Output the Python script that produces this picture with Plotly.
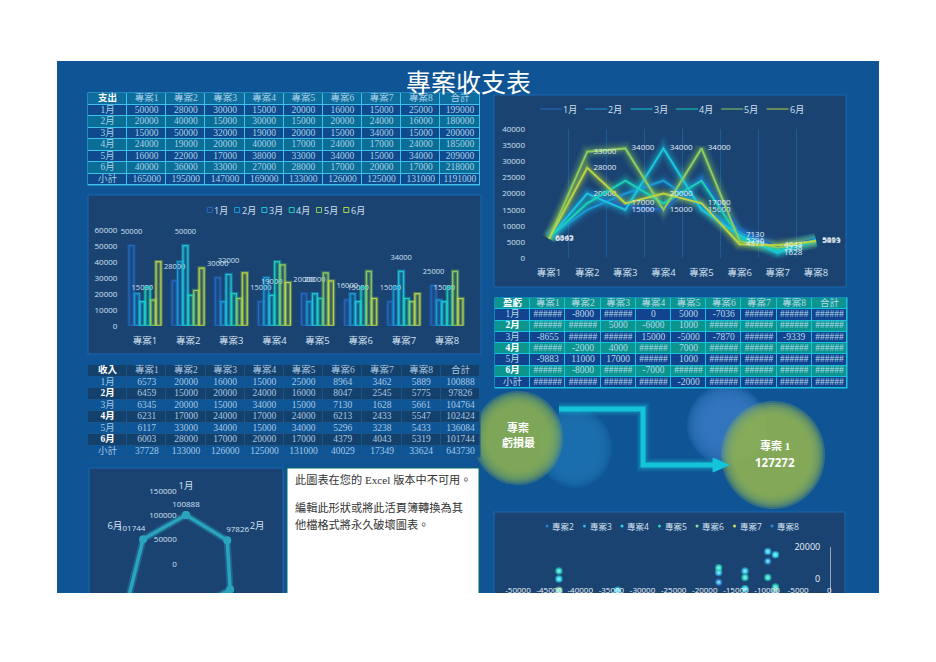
import plotly.graph_objects as go

W, H = 936, 662
projects = ["專案1", "專案2", "專案3", "專案4", "專案5", "專案6", "專案7", "專案8"]
months = ["1月", "2月", "3月", "4月", "5月", "6月"]
table_cols = projects + ["合計"]

expense = [
    [50000, 28000, 30000, 15000, 20000, 16000, 15000, 25000, 199000],
    [20000, 40000, 15000, 30000, 15000, 20000, 24000, 16000, 180000],
    [15000, 50000, 32000, 19000, 20000, 15000, 34000, 15000, 200000],
    [24000, 19000, 20000, 40000, 17000, 24000, 17000, 24000, 185000],
    [16000, 22000, 17000, 38000, 33000, 34000, 15000, 34000, 209000],
    [40000, 36000, 33000, 27000, 28000, 17000, 20000, 17000, 218000],
]
expense_total = [165000, 195000, 147000, 169000, 133000, 126000, 125000, 131000, 1191000]
income = [
    [6573, 20000, 16000, 15000, 25000, 8964, 3462, 5889, 100888],
    [6459, 15000, 20000, 24000, 16000, 8047, 2545, 5775, 97826],
    [6345, 20000, 15000, 34000, 15000, 7130, 1628, 5661, 104764],
    [6231, 17000, 24000, 17000, 24000, 6213, 2433, 5547, 102424],
    [6117, 33000, 34000, 15000, 34000, 5296, 3238, 5433, 136084],
    [6003, 28000, 17000, 20000, 17000, 4379, 4043, 5319, 101744],
]
income_total = [37728, 133000, 126000, 125000, 131000, 40029, 17349, 33624, 643730]
H6 = "######"
profit_cells = [
    [H6, -8000, H6, 0, 5000, -7036, H6, H6, H6],
    [H6, H6, 5000, -6000, 1000, H6, H6, H6, H6],
    [-8655, H6, H6, 15000, -5000, -7870, H6, -9339, H6],
    [H6, -2000, 4000, H6, 7000, H6, H6, H6, H6],
    [-9883, 11000, 17000, H6, 1000, H6, H6, H6, H6],
    [H6, -8000, H6, -7000, H6, H6, H6, H6, H6],
]
profit_total = [H6, H6, H6, H6, -2000, H6, H6, H6, H6]

radar_values = [100888, 97826, 104764, 102424, 136084, 101744]

scatter_x = [-43427, -13541, -8655, -17769, -9883, -33997]
scatter_series = {
    "專案2": [-8000, -25000, -30000, -2000, 11000, -8000],
    "專案3": [-14000, 5000, -17000, 4000, 17000, -16000],
    "專案4": [0, -6000, 15000, -23000, -23000, -7000],
    "專案5": [5000, 1000, -5000, 7000, 1000, -11000],
    "專案6": [-7036, -11953, -7870, -17787, -28704, -12621],
    "專案7": [-11538, -21455, -32372, -14567, -11762, -15957],
    "專案8": [-19111, -10225, -9339, -18453, -28567, -11681],
}
scatter_ticks = [-50000, -45000, -40000, -35000, -30000, -25000, -20000, -15000, -10000, -5000, 0]
scatter_colors = ["#2a7fd4", "#2fb5e8", "#25d4e8", "#22d6b0", "#8fe09a", "#d6d860", "#2f88e0"]

month_colors = ["#2468c0", "#1a9ad6", "#1cc6dc", "#1cd0b8", "#8ccb5e", "#b8d444"]

SANS = "Open Sans, Noto Sans CJK TC, sans-serif"
SERIF = "Liberation Serif, Noto Sans CJK TC, serif"
LABEL = "#d3e1f0"
PAGE = "#0f5595"
PANEL = "#1a4372"
PANEL_LINE = "#1a68b0"
NB = "\u00a0"


def fx(px):
    return px / W


def fy(py):
    return 1 - py / H


shapes, annotations = [], []
layout = {}


def rect(x0, y0, x1, y1, fill, line=None, lw=1, layer="below"):
    shapes.append(dict(type="rect", xref="paper", yref="paper", x0=fx(x0), x1=fx(x1), y0=fy(y0), y1=fy(y1),
                       fillcolor=fill, line=dict(color=line or fill, width=lw if line else 0), layer=layer))


def circle(cx, cy, rx, ry, fill, opacity=1.0):
    shapes.append(dict(type="circle", xref="paper", yref="paper", x0=fx(cx - rx), x1=fx(cx + rx),
                       y0=fy(cy - ry), y1=fy(cy + ry), fillcolor=fill, opacity=opacity,
                       line=dict(width=0), layer="below"))


def soft_circle(cx, cy, rx, ry, fill, spread=7):
    for k in range(8):
        d = spread - 2 * spread * k / 7
        circle(cx, cy, rx + d, ry + d, fill, 0.3)


def label(x, y, text, size=9, color=LABEL, family=SANS, xanchor="left"):
    annotations.append(dict(xref="paper", yref="paper", x=fx(x), y=fy(y), text=text, showarrow=False,
                            xanchor=xanchor, yanchor="middle", font=dict(size=size, color=color, family=family),
                            borderpad=0, borderwidth=0))


def axes(i, box, xcfg, ycfg):
    x0, y0, x1, y1 = box
    s = "" if i == 1 else str(i)
    layout[f"xaxis{s}"] = dict(domain=[fx(x0), fx(x1)], anchor=f"y{s}", **xcfg)
    layout[f"yaxis{s}"] = dict(domain=[fy(y1), fy(y0)], anchor=f"x{s}", **ycfg)
    return f"x{s}", f"y{s}"


fig = go.Figure()

# ---------- page background and panels
rect(57, 61, 879, 593, PAGE)
rect(88, 195, 481, 354, PANEL, PANEL_LINE)
rect(494, 95, 846, 287, PANEL, PANEL_LINE)
rect(89, 468, 283, 600, PANEL, PANEL_LINE)
rect(494, 512, 845, 600, PANEL, PANEL_LINE)
rect(287, 468, 479, 600, "#ffffff", "#0b6b62", 1)

# ---------- bubbles and arrow
soft_circle(575, 448, 29, 32, "#1d6fae", 8)
soft_circle(727, 425, 32, 32, "#3577bf", 8)
soft_circle(518, 438, 38, 40, "#86ad55", 7)
soft_circle(773, 455, 45, 47, "#8aae55", 7)

arrow = "M %.4f %.4f L %.4f %.4f L %.4f %.4f L %.4f %.4f" % (
    fx(559), fy(409), fx(643), fy(409), fx(643), fy(465), fx(714), fy(465))
head = "M %.4f %.4f L %.4f %.4f L %.4f %.4f Z" % (fx(713), fy(458), fx(729), fy(465), fx(713), fy(472))
for w, op in [(13, 0.12), (9, 0.25), (5, 1.0)]:
    shapes.append(dict(type="path", xref="paper", yref="paper", path=arrow,
                       line=dict(color="#14c4d8", width=w), opacity=op, layer="below"))
shapes.append(dict(type="path", xref="paper", yref="paper", path=head, fillcolor="#14c4d8",
                   line=dict(color="#14c4d8", width=1), layer="below"))


# ---------- tables
def table(i, box, corner, rows, totals, colors, grid, txt, bold_rows):
    rect(box[0] - 0.5, box[1] - 0.5, box[2] + 0.5, box[3] + 0.5, grid)
    col_names = [corner] + table_cols
    row_names = [corner] + months + ["小計"]
    xa, ya = axes(i, box,
                  dict(type="category", range=[-0.5, 9.5], visible=False, categoryarray=col_names),
                  dict(type="category", range=[7.5, -0.5], visible=False, categoryarray=row_names))
    z = [[0] * 10]
    for r in range(7):
        z.append([1 if r % 2 == 0 else 2] * 10)
    fig.add_trace(go.Heatmap(x=col_names, y=row_names, z=z, zmin=0, zmax=2, xgap=1, ygap=1,
                             colorscale=[[0, colors[0]], [0.5, colors[1]], [1, colors[2]]],
                             showscale=False, hoverinfo="skip", xaxis=xa, yaxis=ya))
    grid_rows = [table_cols] + rows + [totals]
    xs, ys, ts, cs = [], [], [], []
    for r, name in enumerate(row_names):
        bold = name in bold_rows
        xs.append(corner)
        ys.append(name)
        ts.append(f"<b>{name}</b>" if bold else name)
        cs.append("#ffffff" if bold else txt)
        for c, cn in enumerate(table_cols):
            xs.append(cn)
            ys.append(name)
            ts.append(str(grid_rows[r][c]))
            cs.append(txt)
    fig.add_trace(go.Scatter(x=xs, y=ys, text=ts, mode="text", textposition="middle center",
                             textfont=dict(size=9.5, color=cs, family=SERIF), hoverinfo="skip",
                             cliponaxis=False, showlegend=False, xaxis=xa, yaxis=ya))


table(1, (88, 93, 479.5, 185), "支出", expense, expense_total,
      ["#0f6d9e", "#0e4a8c", "#0a6e96"], "#3fc0ee", "#a9d2ea", ["支出"])
table(2, (88, 365, 480, 457), "收入", income, income_total,
      ["#14406c", "#0e5596", "#14406c"], "#17558c", "#a9c8e2", ["收入", "2月", "4月", "6月"])
table(3, (495, 298, 847, 388), "盈虧", profit_cells, profit_total,
      ["#0c9590", "#12438f", "#0c948f"], "#1ac4e0", "#b5dbe8", ["盈虧", "2月", "4月", "6月"])

# ---------- grouped bar chart
tickfont = dict(size=8, color=LABEL, family=SANS)
bar_box = (123.4, 229.7, 468.6, 325.7)
hidden_y = dict(range=[0, 60000], visible=False)
xb, yb = axes(4, bar_box, dict(type="category", categoryarray=projects, tickfont=dict(size=9.5, color=LABEL, family=SANS),
                               showgrid=False, showline=False, ticks="", zeroline=False, ticklabelstandoff=8),
              dict(range=[0, 60000], tickfont=tickfont, showgrid=False, zeroline=False, showline=False,
                   tickvals=[0, 10000, 20000, 30000, 40000, 50000, 60000], ticks="", tickformat="d",
                   ticklabelstandoff=5))
xb2, yb2 = axes(5, bar_box, dict(type="category", categoryarray=projects, visible=False), hidden_y)
layout["yaxis5"]["overlaying"] = "y4"
layout["xaxis5"]["overlaying"] = "x4"


def rgba(hexc, a):
    return "rgba(%d,%d,%d,%.2f)" % (int(hexc[1:3], 16), int(hexc[3:5], 16), int(hexc[5:7], 16), a)


for m, month in enumerate(months):
    vals = expense[m][:8]
    col = month_colors[m]
    fig.add_trace(go.Bar(x=projects, y=vals, marker=dict(color=rgba(col, 0.14), line=dict(color=rgba(col, 0.35), width=3.5)),
                         showlegend=False, hoverinfo="skip", xaxis=xb, yaxis=yb))
for m, month in enumerate(months):
    vals = expense[m][:8]
    col = month_colors[m]
    labelled = m in (0, 2)
    fig.add_trace(go.Bar(x=projects, y=vals, name=month,
                         marker=dict(color="rgba(0,0,0,0)", line=dict(color=col, width=1.2)),
                         text=[f"{v}<br>{NB}" for v in vals] if labelled else None,
                         textposition="outside" if labelled else "none",
                         constraintext="none",
                         textfont=dict(size=7.5, color=LABEL, family=SANS), cliponaxis=False,
                         showlegend=False, xaxis=xb2, yaxis=yb2))
layout["barmode"] = "group"
layout["bargap"] = 0.25
layout["bargroupgap"] = 0.08

for m, month in enumerate(months):
    x = 207.3 + 27.3 * m
    rect(x, 207.5, x + 5, 212.5, "rgba(0,0,0,0)", month_colors[m], 1)
    label(x + 7, 210, month, 9)

# ---------- line chart
xl, yl = axes(6, (530, 129, 835, 258.3),
              dict(type="category", categoryarray=projects, range=[-0.5, 7.5], tickson="boundaries",
                   showgrid=True, gridcolor="#1f5a94", gridwidth=1, tickfont=dict(size=9.5, color=LABEL, family=SANS),
                   showline=False, zeroline=False, ticks="", ticklabelstandoff=7),
              dict(range=[0, 40000], tickfont=tickfont, showgrid=False, zeroline=False, showline=False,
                   tickvals=list(range(0, 40001, 5000)), ticks="", tickformat="d", ticklabelstandoff=4))
for w, op in [(15, 0.06), (11, 0.10), (7, 0.14), (4.5, 0.18)]:
    for m, month in enumerate(months):
        fig.add_trace(go.Scatter(x=projects, y=income[m][:8], mode="lines", line=dict(color=month_colors[m], width=w),
                                 opacity=op, hoverinfo="skip", showlegend=False, xaxis=xl, yaxis=yl))
for m, month in enumerate(months):
    labelled = m in (2, 4, 5)
    vals = income[m][:8]
    fig.add_trace(go.Scatter(x=projects, y=vals, name=month, mode="lines+text" if labelled else "lines",
                             line=dict(color=month_colors[m], width=2),
                             text=[f"{NB}{NB}{NB}{v}" for v in vals] if labelled else None,
                             textposition="middle right", textfont=dict(size=8, color="#e4edf6", family=SANS),
                             cliponaxis=False, showlegend=False, xaxis=xl, yaxis=yl))
for m, month in enumerate(months):
    x = 540 + 45.3 * m
    shapes.append(dict(type="line", xref="paper", yref="paper", x0=fx(x), x1=fx(x + 22), y0=fy(109), y1=fy(109),
                       line=dict(color=month_colors[m], width=1), layer="below"))
    label(x + 23, 109, month, 9)

# ---------- radar chart
radar_pos = ["top center", "top center", "bottom right", "bottom center", "bottom left", "top center"]
radar_text = [str(radar_values[0]), NB * 10 + str(radar_values[1]), str(radar_values[2]),
              str(radar_values[3]), str(radar_values[4]), str(radar_values[5]) + NB * 11, ""]
ring = months + months[:1]
layout["polar"] = dict(
    domain=dict(x=[fx(113), fx(259)], y=[fy(637), fy(491)]),
    bgcolor="rgba(0,0,0,0)",
    angularaxis=dict(rotation=90, direction="clockwise", type="category", categoryarray=months,
                     showgrid=False, showline=False, ticks="", tickfont=dict(size=9.5, color=LABEL, family=SANS)),
    radialaxis=dict(range=[0, 150000], tickvals=[0, 50000, 100000, 150000], angle=90, side="counterclockwise",
                    showgrid=False, showline=False, ticks="outside", ticklen=6, tickcolor="rgba(0,0,0,0)",
                    tickfont=dict(size=8, color=LABEL, family=SANS), tickangle=90, tickformat="d"),
)
ring_vals = radar_values + radar_values[:1]
fig.add_trace(go.Scatterpolar(r=ring_vals, theta=ring, mode="lines", line=dict(color="#2aa3bd", width=7),
                              opacity=0.35, hoverinfo="skip", showlegend=False))
fig.add_trace(go.Scatterpolar(r=ring_vals, theta=ring, mode="lines+markers+text", name="合計",
                              line=dict(color="#2aa3bd", width=3.5), marker=dict(size=8, color="#2aa3bd"),
                              text=radar_text, textposition=radar_pos + ["top center"],
                              textfont=dict(size=8, color=LABEL, family=SANS), cliponaxis=False, showlegend=False))

# ---------- scatter chart
xs_, ys_ = axes(7, (518, 546.7, 829.3, 611.3),
                dict(range=[-50000, 0], tickvals=scatter_ticks, ticktext=[str(v) for v in scatter_ticks], tickangle=0,
                     position=fy(584), showgrid=False, zeroline=False, showline=False, ticks="",
                     tickfont=dict(size=8, color="#eef3f8", family=SANS)),
                dict(range=[-20000, 20000], tickvals=[-20000, 0, 20000], ticktext=["-20000", "0", "20000"],
                     showgrid=False, zeroline=False, position=fx(830), ticklabelstandoff=8,
                     showline=True, linecolor="#8fa7bf", linewidth=1, ticks="", side="left",
                     tickfont=dict(size=9, color="#eef3f8", family=SANS)))
layout["xaxis7"]["anchor"] = "free"
layout["yaxis7"]["anchor"] = "free"
for n, (name, vals) in enumerate(scatter_series.items()):
    col = scatter_colors[n]
    fig.add_trace(go.Scatter(x=scatter_x, y=vals, name=name, mode="markers",
                             marker=dict(size=5, color="#7fe8f0", line=dict(color=rgba(col, 0.6), width=2.5)),
                             cliponaxis=False, showlegend=False, xaxis=xs_, yaxis=ys_))
    x = 547 + 37.5 * n
    circle(x, 526, 1.5, 1.5, col)
    label(x + 5, 526, name, 8.5)

# ---------- text on the page
label(468.5, 81, "專案收支表", 25, "#ffffff", "Noto Sans CJK TC", "center")
label(518, 427, "<b>專案</b>", 11, "#ffffff", SERIF, "center")
label(518, 442, "<b>虧損最</b>", 11, "#ffffff", SERIF, "center")
label(775, 445, "<b>專案 1</b>", 11, "#ffffff", SERIF, "center")
label(775, 462, "<b>127272</b>", 11.5, "#ffffff", SANS, "center")
label(295, 479, "此圖表在您的 Excel 版本中不可用。", 11.2, "#333333", SERIF)
label(295, 507, "編輯此形狀或將此活頁簿轉換為其", 11.2, "#333333", SERIF)
label(295, 524, "他檔格式將永久破壞圖表。", 11.2, "#333333", SERIF)

# white strip: the sheet stops at the page edge
rect(0, 593, W, H, "#ffffff", layer="above")

fig.update_layout(width=W, height=H, margin=dict(l=0, r=0, t=0, b=0, autoexpand=False), paper_bgcolor="#ffffff",
                  plot_bgcolor="rgba(0,0,0,0)", showlegend=False, shapes=shapes, annotations=annotations,
                  hovermode=False, **layout)
fig.write_html("out.html", config={"displayModeBar": False},
               post_script="document.body.style.margin='0';")
